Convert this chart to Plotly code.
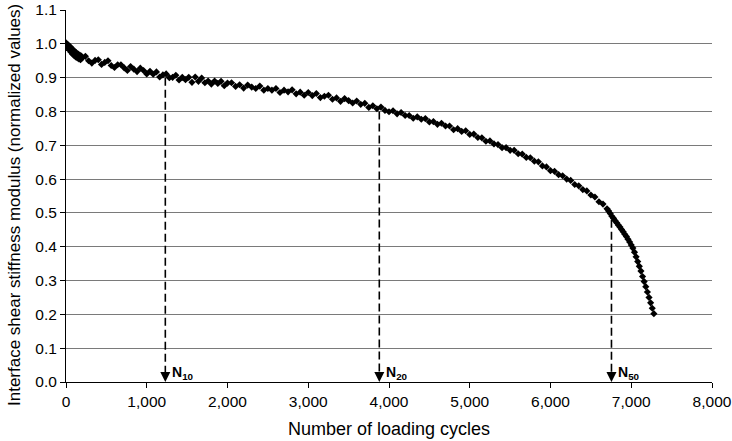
import plotly.graph_objects as go

# ---- data ----
cycles_a = [0, 10, 20, 30, 40, 50, 60, 70, 80, 90, 100, 110, 120, 130, 140, 150, 160, 170, 180, 190, 200]
stiff_a = [1.003, 0.998, 0.990, 0.996, 0.982, 0.992, 0.976, 0.986, 0.970, 0.982, 0.966, 0.977, 0.961, 0.973,
           0.958, 0.970, 0.955, 0.967, 0.953, 0.964, 0.958]

cycles_b = [240, 280, 320, 360, 400, 440, 480, 520, 560, 600, 640, 680, 720, 760, 800, 840, 880, 920, 960, 1000,
            1040, 1080, 1120, 1160, 1200, 1240, 1280, 1320, 1360, 1400, 1440, 1480, 1520, 1560, 1600, 1640, 1680,
            1720, 1760, 1800, 1840, 1880, 1920, 1960, 2000]
stiff_b = [0.963, 0.950, 0.943, 0.951, 0.953, 0.939, 0.945, 0.950, 0.936, 0.930,
           0.938, 0.938, 0.929, 0.921, 0.933, 0.925, 0.918, 0.928, 0.921, 0.911,
           0.919, 0.910, 0.917, 0.902, 0.908, 0.911, 0.900, 0.901, 0.907, 0.893,
           0.901, 0.894, 0.901, 0.886, 0.902, 0.889, 0.899, 0.885, 0.890, 0.881,
           0.890, 0.883, 0.889, 0.876, 0.884]

cycles_c = [2050, 2100, 2150, 2200, 2250, 2300, 2350, 2400, 2450, 2500, 2550, 2600, 2650, 2700, 2750, 2800,
            2850, 2900, 2950, 3000, 3050, 3100, 3150, 3200, 3250, 3300, 3350, 3400, 3450, 3500, 3550, 3600,
            3650, 3700, 3750, 3800, 3850, 3900, 3950, 4000, 4050, 4100, 4150, 4200, 4250, 4300, 4350, 4400,
            4450, 4500, 4550, 4600, 4650, 4700, 4750, 4800, 4850, 4900, 4950, 5000, 5050, 5100, 5150, 5200,
            5250, 5300, 5350, 5400, 5450, 5500, 5550, 5600, 5650, 5700, 5750, 5800, 5850, 5900, 5950, 6000,
            6050, 6100, 6150, 6200, 6250, 6300, 6350, 6400, 6450, 6500, 6550, 6600, 6650, 6700]
stiff_c = [0.885, 0.874, 0.879, 0.869, 0.878, 0.872, 0.868, 0.875, 0.863, 0.868,
           0.863, 0.868, 0.856, 0.863, 0.858, 0.864, 0.852, 0.857, 0.848, 0.856,
           0.847, 0.853, 0.841, 0.845, 0.848, 0.836, 0.840, 0.830, 0.838, 0.832,
           0.825, 0.831, 0.821, 0.824, 0.812, 0.817, 0.808, 0.813, 0.803, 0.799,
           0.802, 0.793, 0.797, 0.788, 0.788, 0.780, 0.784, 0.777, 0.779, 0.769,
           0.770, 0.762, 0.765, 0.757, 0.757, 0.746, 0.749, 0.741, 0.743, 0.732,
           0.733, 0.723, 0.722, 0.712, 0.713, 0.704, 0.702, 0.693, 0.693, 0.685,
           0.685, 0.675, 0.674, 0.664, 0.663, 0.653, 0.651, 0.639, 0.636, 0.625,
           0.623, 0.613, 0.610, 0.600, 0.596, 0.584, 0.580, 0.569, 0.565, 0.553,
           0.547, 0.533, 0.526, 0.512]

cycles_d = [6720, 6740, 6760, 6780, 6800, 6820, 6840, 6860, 6880, 6900, 6920, 6940, 6960, 6980, 7000,
            7020, 7040, 7060, 7080, 7100, 7120, 7140, 7160, 7180, 7200, 7220, 7240, 7260, 7280]
stiff_d = [0.506, 0.498, 0.490, 0.484, 0.477, 0.471, 0.464, 0.458, 0.451, 0.444, 0.437, 0.430, 0.422,
           0.414, 0.405, 0.396, 0.384, 0.370, 0.356, 0.342, 0.328, 0.312, 0.297, 0.282, 0.266, 0.250,
           0.234, 0.218, 0.202]

arrow_cycles = [1230, 3880, 6755]
arrow_levels = [0.9, 0.8, 0.48]
arrow_labels = ["N<sub>10</sub>", "N<sub>20</sub>", "N<sub>50</sub>"]

x_ticks = [0, 1000, 2000, 3000, 4000, 5000, 6000, 7000, 8000]
y_ticks = [0.0, 0.1, 0.2, 0.3, 0.4, 0.5, 0.6, 0.7, 0.8, 0.9, 1.0, 1.1]

x_title = "Number of loading cycles"
y_title = "Interface shear stiffness modulus (normalized values)"

cycles = cycles_a + cycles_b + cycles_c + cycles_d
stiff = stiff_a + stiff_b + stiff_c + stiff_d

FONT = "Liberation Sans, Arial, sans-serif"

fig = go.Figure()
fig.add_trace(go.Scatter(
    x=cycles, y=stiff, mode="markers",
    marker=dict(symbol="diamond", size=5.5, color="black", line=dict(width=0)),
    showlegend=False, hoverinfo="skip",
))

# arrow heads (tip at y = 0)
fig.add_trace(go.Scatter(
    x=arrow_cycles, y=[0] * len(arrow_cycles), mode="markers",
    marker=dict(symbol="arrow-down", size=10, color="black", line=dict(width=0)),
    showlegend=False, hoverinfo="skip", cliponaxis=False,
))

for xc, lv, lab in zip(arrow_cycles, arrow_levels, arrow_labels):
    fig.add_shape(type="line", xref="x", yref="y", x0=xc, x1=xc, y0=lv, y1=0.028,
                  line=dict(color="black", width=1.6, dash="8px,4px"), layer="above")
    fig.add_annotation(x=xc, y=0, xref="x", yref="y", text="<b>" + lab + "</b>", showarrow=False,
                       xanchor="left", yanchor="bottom", xshift=5, yshift=-2,
                       font=dict(family=FONT, size=14, color="black"))

# y-axis title placed as in the reference
fig.add_annotation(x=0, y=0.5, xref="paper", yref="paper", text=y_title, textangle=-90,
                   showarrow=False, xanchor="center", yanchor="middle", xshift=-52, yshift=-9,
                   font=dict(family=FONT, size=17, color="black"))

fig.update_layout(
    width=732, height=441,
    margin=dict(l=66, r=20, t=10, b=59),
    paper_bgcolor="white", plot_bgcolor="white",
    font=dict(family=FONT, color="black"),
    showlegend=False,
)
fig.update_xaxes(
    range=[0, 8000], tickvals=x_ticks, tickformat=",", showgrid=False, zeroline=False,
    showline=True, linecolor="black", linewidth=1, ticks="outside", ticklen=5, tickcolor="black",
    automargin=False,
    tickfont=dict(size=15.5, family=FONT),
    title=dict(text=x_title, font=dict(size=18, family=FONT), standoff=13),
)
fig.update_yaxes(
    range=[0, 1.1], tickvals=y_ticks, tickformat=".1f", showgrid=True, gridcolor="#7a7a7a",
    gridwidth=1, zeroline=False, showline=True, linecolor="black", linewidth=1,
    ticks="outside", ticklen=5, tickcolor="black", automargin=False,
    tickfont=dict(size=15.5, family=FONT),
)

fig.write_html("out.html", config={"displayModeBar": False},
               post_script="document.body.style.margin='0';document.body.style.overflow='hidden';")
